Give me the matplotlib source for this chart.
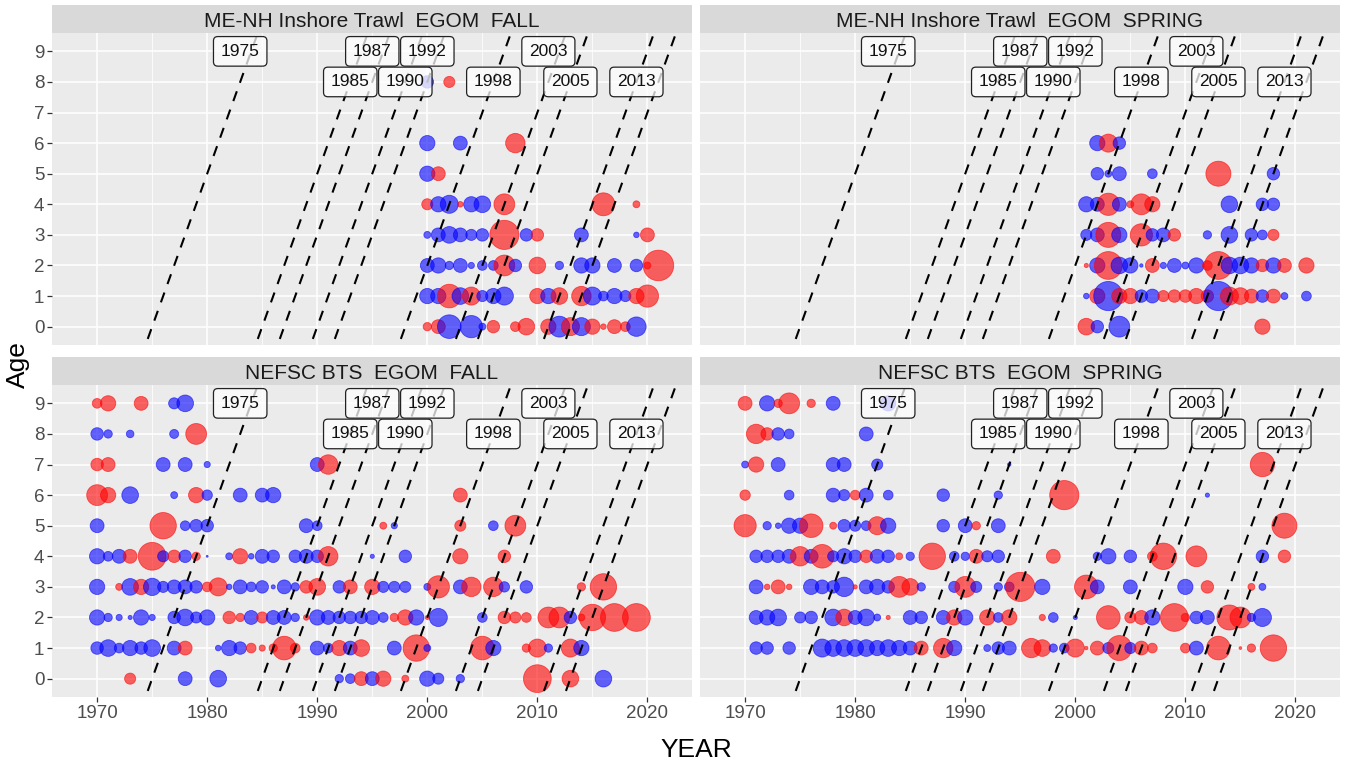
import matplotlib.pyplot as plt
import numpy as np
import pandas as pd

plt.rcParams['font.family'] = ['Liberation Sans', 'DejaVu Sans']
plt.rcParams['lines.scale_dashes'] = False

# standardized residuals by age: age -> [(year, resid)], red > 0, blue < 0
menh_fall = {
    8: [(2000, -0.81), (2002, 0.64)],
    6: [(2000, -1.21), (2003, -1.0), (2008, 1.96)],
    5: [(2000, -1.21), (2001, 1.0)],
    4: [(2000, 0.64), (2001, -1.21), (2002, -1.69), (2003, 0.16), (2004, -1.21),
        (2005, -1.44), (2007, 2.25), (2016, 2.72), (2019, 0.25)],
    3: [(2000, -0.25), (2001, -1.0), (2002, -1.44), (2003, -1.0), (2004, -0.64),
        (2005, -0.81), (2007, 4.41), (2009, -0.81), (2010, 0.81), (2014, -1.0),
        (2019, -0.16), (2020, 1.0)],
    2: [(2000, -1.0), (2001, -1.21), (2002, -0.36), (2003, -1.0), (2004, -0.2),
        (2005, -0.49), (2006, -0.49), (2007, 2.25), (2008, -0.81), (2010, 1.44),
        (2012, -0.36), (2014, -1.21), (2015, -1.21), (2017, -1.0), (2019, -0.81),
        (2020, 0.25), (2021, 4.84)],
    1: [(2000, -1.21), (2001, -1.21), (2002, 2.89), (2003, -1.44), (2004, 1.69),
        (2005, -0.64), (2006, -1.21), (2007, -1.69), (2010, 1.21), (2011, -1.21),
        (2012, 1.44), (2014, 1.96), (2015, -1.69), (2016, -0.49), (2017, -1.21),
        (2018, -0.64), (2019, 1.21), (2020, 2.56)],
    0: [(2000, 0.36), (2001, 1.0), (2002, -2.89), (2004, -2.56), (2005, -0.25),
        (2006, 0.81), (2008, 0.49), (2009, 1.44), (2011, 1.21), (2012, -2.25),
        (2013, 1.69), (2014, -1.69), (2015, 1.21), (2016, 0.16), (2017, 1.0),
        (2018, 0.49), (2019, -1.96)],
}

menh_spring = {
    6: [(2002, -1.21), (2003, 1.69), (2004, -0.81)],
    5: [(2002, -0.81), (2003, -0.25), (2004, -1.0), (2007, -0.49), (2013, 3.24),
        (2018, -0.81)],
    4: [(2001, -1.21), (2002, -1.0), (2003, 2.56), (2004, -1.0), (2005, 0.25),
        (2006, 2.25), (2007, 1.21), (2014, -1.44), (2017, -0.81), (2018, -0.81)],
    3: [(2001, -0.64), (2002, -1.0), (2003, 3.24), (2004, -1.21), (2006, 2.56),
        (2007, -0.81), (2008, -1.0), (2009, 0.81), (2012, -0.36), (2014, -1.44),
        (2016, -0.81), (2017, -0.49), (2018, 0.64)],
    2: [(2001, 0.09), (2002, -1.21), (2003, 4.0), (2004, -1.44), (2005, -1.21),
        (2006, -0.06), (2007, 1.0), (2008, -0.2), (2009, -1.0), (2010, -0.25),
        (2011, -1.21), (2012, 0.49), (2013, 4.0), (2014, -1.44), (2015, -1.44),
        (2016, -1.21), (2017, 0.81), (2018, -1.21), (2019, 1.0), (2021, 1.21)],
    1: [(2001, -0.16), (2002, 1.21), (2003, -4.41), (2004, 1.21), (2005, 1.21),
        (2006, -0.81), (2007, -1.0), (2008, 0.64), (2009, 0.81), (2010, 0.81),
        (2011, 1.21), (2012, 0.81), (2013, -4.41), (2014, 1.69), (2015, 1.44),
        (2016, 1.0), (2017, -0.81), (2018, 1.0), (2019, -0.25), (2021, -0.49)],
    0: [(2001, 1.44), (2002, -0.81), (2004, -2.25), (2017, 1.21)],
}

nefsc_fall = {
    9: [(1970, 0.49), (1971, 1.21), (1974, 1.0), (1977, -0.64), (1978, -1.44)],
    8: [(1970, -0.81), (1971, -0.36), (1973, -0.3), (1977, -0.42), (1979, 2.25)],
    7: [(1970, 0.81), (1971, 1.0), (1976, -1.0), (1978, -1.0), (1980, -0.2),
        (1990, -1.0), (1991, 1.96)],
    6: [(1970, 2.25), (1971, 1.21), (1973, -1.44), (1977, -0.25), (1979, 1.21),
        (1980, -0.56), (1983, -1.0), (1985, -1.0), (1986, -1.21), (2003, 1.0)],
    5: [(1970, -1.0), (1976, 3.61), (1978, -0.49), (1979, -0.81), (1980, -0.81),
        (1989, -1.0), (1990, -0.49), (1996, 0.25), (1997, -0.2), (2003, 0.64),
        (2006, -0.49), (2008, 2.25)],
    4: [(1970, -1.21), (1971, -0.49), (1972, -1.0), (1973, 1.0), (1975, 4.0),
        (1976, -0.64), (1977, 0.81), (1978, -0.81), (1979, 0.36), (1980, -0.02),
        (1982, -0.25), (1983, 1.21), (1984, -0.16), (1985, -1.0), (1986, -0.81),
        (1988, -0.81), (1989, -1.0), (1990, -0.81), (1991, 1.96), (1995, -0.09),
        (1998, -0.81), (2003, 1.21), (2007, 0.81)],
    3: [(1970, -1.21), (1972, 0.25), (1973, -1.44), (1974, 1.21), (1975, -1.56),
        (1976, -0.64), (1977, -1.0), (1978, -1.0), (1979, -0.81), (1980, 0.49),
        (1981, 1.69), (1982, -0.16), (1983, -1.0), (1984, -0.49), (1985, -0.81),
        (1986, -0.09), (1987, -1.0), (1988, -0.36), (1989, 0.81), (1990, 1.44),
        (1992, -0.81), (1993, 1.0), (1995, 1.21), (1996, -0.64), (1997, -0.64),
        (1998, -0.64), (2000, -0.25), (2001, 2.56), (2003, -1.0), (2004, 1.96),
        (2006, 1.96), (2007, -0.56), (2009, -0.81), (2014, 0.36), (2016, 3.61)],
    2: [(1970, -1.21), (1971, -0.36), (1972, -0.2), (1973, -0.09), (1974, -1.21),
        (1975, -0.2), (1977, -0.81), (1978, -1.44), (1979, -0.64), (1980, -1.21),
        (1982, 0.81), (1983, 0.36), (1984, -1.0), (1985, 0.64), (1986, -1.0),
        (1987, -1.0), (1988, -0.36), (1989, 0.16), (1990, -1.21), (1991, -1.0),
        (1992, -0.81), (1993, -0.81), (1994, -0.81), (1995, -1.0), (1996, -0.49),
        (1997, 0.36), (1998, 1.21), (1999, -1.21), (2000, 0.09), (2001, -1.69),
        (2005, -0.49), (2007, 0.81), (2008, 0.64), (2009, 0.49), (2011, 2.25),
        (2012, 2.25), (2013, -0.81), (2014, 0.25), (2015, 3.61), (2017, 4.0),
        (2019, 4.0)],
    1: [(1970, -0.81), (1971, -1.44), (1972, -0.49), (1973, -1.21), (1974, -0.81),
        (1975, -1.44), (1977, -1.0), (1978, 1.0), (1981, -0.16), (1982, -1.21),
        (1983, -0.81), (1984, 0.49), (1985, 0.2), (1986, 0.36), (1987, 2.89),
        (1988, 0.49), (1990, -1.0), (1991, -0.49), (1992, 1.21), (1993, -1.0),
        (1994, 1.44), (1997, -1.0), (1999, 3.61), (2000, -0.25), (2005, 2.89),
        (2006, -1.21), (2009, 0.36), (2010, 1.69), (2011, -0.36), (2013, 1.69),
        (2014, -1.21)],
    0: [(1973, 0.64), (1978, -1.0), (1981, -1.44), (1992, -0.36), (1993, -0.49),
        (1994, 1.0), (1995, -1.0), (1996, 1.21), (1998, 0.25), (2000, -1.21),
        (2001, -0.64), (2003, -0.36), (2010, 4.0), (2013, 1.44), (2016, -1.44)],
}

nefsc_spring = {
    9: [(1970, 1.0), (1972, -1.21), (1973, 0.36), (1974, 2.25), (1976, 0.36),
        (1978, -1.0), (1983, -1.21)],
    8: [(1971, 1.96), (1972, 0.81), (1973, -0.81), (1974, -0.49), (1981, -1.0)],
    7: [(1970, -0.25), (1971, 1.21), (1973, -1.0), (1978, -1.0), (1979, -1.0),
        (1982, -0.64), (1994, -0.06), (2017, 3.06)],
    6: [(1970, 0.56), (1974, -0.49), (1978, -1.0), (1979, -0.64), (1980, 0.49),
        (1981, -1.0), (1983, -0.49), (1988, -0.81), (1993, -0.36), (1999, 4.41),
        (2012, -0.09)],
    5: [(1970, 2.56), (1972, -0.36), (1973, -0.16), (1974, -1.21), (1975, -1.21),
        (1976, 2.89), (1978, 0.25), (1979, -0.81), (1980, -0.64), (1981, -0.49),
        (1982, 1.69), (1983, -1.21), (1988, -0.81), (1990, -1.0), (1991, 0.36),
        (1993, -1.0), (2019, 3.24)],
    4: [(1971, -0.81), (1972, -0.81), (1973, -0.81), (1974, -1.0), (1975, 1.96),
        (1976, -1.0), (1977, 2.89), (1978, -0.64), (1979, -1.21), (1980, -0.81),
        (1981, 0.81), (1982, -1.0), (1983, -0.81), (1984, 0.25), (1985, -0.36),
        (1987, 3.61), (1989, -0.49), (1990, -0.36), (1991, 1.0), (1992, -0.64),
        (1993, -0.81), (1998, 1.0), (2002, -0.36), (2003, -1.21), (2005, -0.81),
        (2007, 0.49), (2008, 3.61), (2011, 2.25), (2017, -0.81), (2019, 0.81)],
    3: [(1971, -1.0), (1972, 0.16), (1973, 1.0), (1974, 0.16), (1976, -1.21),
        (1977, -1.0), (1978, -0.81), (1979, -1.96), (1980, 0.09), (1981, -1.0),
        (1982, -1.21), (1983, -0.81), (1984, 2.25), (1985, 1.44), (1986, -0.36),
        (1989, -0.64), (1990, 2.25), (1991, -0.64), (1993, -0.36), (1994, -0.49),
        (1995, 4.41), (1997, -1.21), (2001, 2.89), (2002, -1.0), (2005, -1.0),
        (2010, -1.21), (2012, 0.81), (2016, 0.25), (2017, -0.25)],
    2: [(1971, -1.0), (1972, -1.21), (1973, -1.44), (1975, -0.64), (1976, -0.81),
        (1978, -1.44), (1979, 1.44), (1980, -1.0), (1981, -1.44), (1982, -0.25),
        (1983, 0.09), (1985, -1.0), (1986, -0.81), (1988, -1.0), (1989, 1.21),
        (1990, -1.21), (1992, 1.21), (1993, -0.49), (1994, 1.21), (1997, 0.2),
        (1998, -0.49), (2000, -0.09), (2003, 2.89), (2005, 0.64), (2006, 1.0),
        (2007, -1.21), (2009, 4.0), (2010, 0.36), (2011, -0.81), (2012, -1.0),
        (2014, 3.24), (2015, 2.25), (2016, -0.36), (2017, -1.69)],
    1: [(1971, -0.81), (1972, -0.81), (1974, -0.81), (1977, -1.69), (1978, -1.44),
        (1979, -1.44), (1980, -1.44), (1981, -1.44), (1982, -1.21), (1983, -1.44),
        (1984, -1.21), (1985, -1.0), (1986, 1.0), (1988, 1.96), (1989, -1.21),
        (1992, -0.25), (1993, -0.81), (1994, -1.0), (1996, 1.96), (1997, 1.44),
        (1998, -0.36), (1999, -0.49), (2000, 1.69), (2001, 0.06), (2002, 1.0),
        (2003, -0.64), (2004, 3.24), (2005, -0.64), (2006, 1.0), (2007, 0.49),
        (2010, 0.49), (2011, -1.0), (2013, 2.89), (2015, 0.04), (2016, 0.36),
        (2018, 3.61)],
}

panel_titles = ['ME-NH Inshore Trawl  EGOM  FALL', 'ME-NH Inshore Trawl  EGOM  SPRING',
                'NEFSC BTS  EGOM  FALL', 'NEFSC BTS  EGOM  SPRING']
panel_tables = [menh_fall, menh_spring, nefsc_fall, nefsc_spring]

# year classes traced along the diagonals
cohorts = [1975, 1985, 1987, 1990, 1992, 1998, 2003, 2005, 2011, 2013]
label_cohorts = [1975, 1985, 1987, 1990, 1992, 1998, 2003, 2005, 2013]
label_ages = [9, 8, 9, 8, 9, 8, 9, 8, 8]


def to_frame(tbl):
    rows = [(yr, age, r) for age, pts in tbl.items() for yr, r in pts]
    return pd.DataFrame(rows, columns=['year', 'age', 'resid'])


W, H = 1349, 767
fig = plt.figure(figsize=(W / 100, H / 100), dpi=100)
fig.patch.set_facecolor('white')


def px_axes(x0, y0, x1, y1):
    return fig.add_axes([x0 / W, 1 - y1 / H, (x1 - x0) / W, (y1 - y0) / H])


cols = [(52, 692), (700, 1340)]
rows = [(33, 345), (385, 697)]
strip_h = 28

for i, (title, tbl) in enumerate(zip(panel_titles, panel_tables)):
    r, c = divmod(i, 2)
    x0, x1 = cols[c]
    y0, y1 = rows[r]
    ax = px_axes(x0, y0, x1, y1)
    ax.set_facecolor('#EBEBEB')
    ax.set_xlim(1965.9, 2024.05)
    ax.set_ylim(-0.6, 9.6)
    ax.set_xticks(range(1970, 2021, 10))
    ax.set_xticks(range(1975, 2016, 10), minor=True)
    ax.set_yticks(range(10))
    ax.grid(which='major', color='white', lw=1.1)
    ax.grid(which='minor', axis='x', color='white', lw=0.55)
    ax.set_axisbelow(True)
    for s in ax.spines.values():
        s.set_visible(False)
    ax.tick_params(which='minor', length=0)
    ax.tick_params(which='major', length=3.5, width=0.9, color='#333333',
                   labelsize=13.5, labelcolor='#4D4D4D', pad=2)
    if c == 1:
        ax.tick_params(axis='y', labelleft=False, length=0)
    if r == 0:
        ax.tick_params(axis='x', labelbottom=False, length=0)

    df = to_frame(tbl)
    colors = np.where(df['resid'] > 0, '#FF0000', '#0000FF')
    ax.scatter(df['year'], df['age'], s=100 * df['resid'].abs(), c=colors,
               alpha=0.6, edgecolors=colors, linewidths=0.6, zorder=2)

    for yc in cohorts:
        ax.plot([yc - 1, yc + 11], [-1, 11], color='black', lw=1.5,
                ls=(0, (7.5, 6.5)), zorder=3)

    for yc, a in zip(label_cohorts, label_ages):
        ax.text(min(yc + 8, 2019), a, str(yc), ha='center', va='center',
                fontsize=12.5, color='#111111', zorder=4,
                bbox=dict(boxstyle='round,pad=0.42,rounding_size=0.25',
                          fc=(1, 1, 1, 0.75), ec='#222222', lw=0.9))

    sax = px_axes(x0, y0 - strip_h, x1, y0)
    sax.set_facecolor('#D9D9D9')
    sax.set_xticks([])
    sax.set_yticks([])
    for s in sax.spines.values():
        s.set_visible(False)
    sax.text(0.5, 0.42, title, ha='center', va='center', fontsize=15,
             color='#1A1A1A', transform=sax.transAxes)

fig.text(696 / W, 1 - 750 / H, 'YEAR', ha='center', va='center', fontsize=19)
fig.text(18 / W, 1 - 365 / H, 'Age', ha='center', va='center', fontsize=19,
         rotation=90)

fig.savefig('out.png', dpi=100)
